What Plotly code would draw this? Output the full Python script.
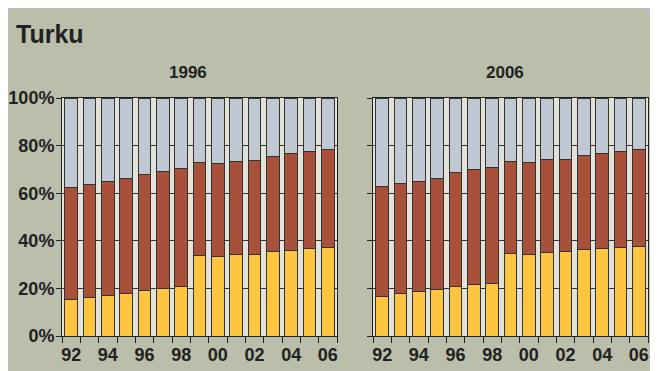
import plotly.graph_objects as go

W, H = 650, 363
OX, OY = 8, 8  # page body margin offset of the figure

years = ["92", "93", "94", "95", "96", "97", "98", "99", "00", "01", "02", "03", "04", "05", "06"]
year_labels = ["92", "", "94", "", "96", "", "98", "", "00", "", "02", "", "04", "", "06"]
y_ticks = [0, 20, 40, 60, 80, 100]
y_labels = ["0%", "20%", "40%", "60%", "80%", "100%"]

# 1996 panel (shares in %)
yellow_1996 = [15.5, 16.2, 17.2, 17.9, 19.0, 19.9, 20.6, 33.7, 33.4, 34.1, 34.4, 35.5, 36.1, 36.6, 37.0]
brown_1996 = [46.9, 47.5, 47.8, 48.1, 49.0, 49.2, 49.7, 39.3, 39.0, 39.2, 39.3, 40.0, 40.5, 40.9, 41.2]
grey_1996 = [37.6, 36.3, 35.0, 34.0, 32.0, 30.9, 29.7, 27.0, 27.6, 26.7, 26.3, 24.5, 23.4, 22.5, 21.8]

# 2006 panel (shares in %)
yellow_2006 = [16.8, 17.7, 18.5, 19.4, 20.8, 21.5, 22.2, 34.5, 34.4, 35.2, 35.4, 36.4, 36.8, 37.3, 37.6]
brown_2006 = [46.0, 46.3, 46.6, 46.9, 47.9, 48.3, 48.8, 38.9, 38.4, 38.9, 38.8, 39.5, 39.9, 40.4, 40.6]
grey_2006 = [37.2, 36.0, 34.9, 33.7, 31.3, 30.2, 29.0, 26.6, 27.2, 25.9, 25.8, 24.1, 23.3, 22.3, 21.8]

C_YELLOW = "#FFC540"
C_BROWN = "#A9503B"
C_GREY = "#C0C8D4"
C_BG = "#BBBEAA"
C_PLOT = "#E2E2D8"
C_DARK = "#222222"


def px(x):
    return (x - OX) / W


def py(y):
    return 1 - (y - OY) / H


fig = go.Figure()
line = dict(color="#333333", width=1)
for xa, ya, ys in [("x", "y", (yellow_1996, brown_1996, grey_1996)),
                   ("x2", "y2", (yellow_2006, brown_2006, grey_2006))]:
    for vals, col in zip(ys, [C_YELLOW, C_BROWN, C_GREY]):
        fig.add_trace(go.Bar(x=years, y=vals, marker=dict(color=col, line=line),
                             xaxis=xa, yaxis=ya, showlegend=False, hoverinfo="skip"))

font_b = dict(family="Liberation Sans, Arial, sans-serif", size=18, color=C_DARK, weight="bold")
font_h = dict(family="Liberation Sans, Arial, sans-serif", size=17, color=C_DARK, weight="bold")

xcommon = dict(type="category", tickvals=years, ticktext=year_labels, tickson="boundaries",
               tickangle=0, ticks="outside", ticklen=6, tickcolor=C_DARK, tickwidth=1,
               showline=True, linecolor=C_DARK, linewidth=1, mirror=True, ticklabelstandoff=2,
               showgrid=False, tickfont=font_b, automargin=False, fixedrange=True)
ycommon = dict(range=[0, 100], tickvals=y_ticks, ticktext=y_labels, ticks="outside", ticklen=5,
               tickcolor=C_DARK, tickwidth=1, showline=True, linecolor=C_DARK, linewidth=1,
               mirror=True, showgrid=True, gridcolor="#333333", gridwidth=1, ticklabelstandoff=-2,
               zeroline=False, tickfont=font_b, automargin=False, fixedrange=True)

ydom = [py(336), py(98)]
fig.update_layout(
    width=W, height=H,
    margin=dict(l=0, r=0, t=0, b=0),
    paper_bgcolor=C_BG, plot_bgcolor=C_PLOT,
    barmode="stack", bargap=0.32,
    showlegend=False,
    xaxis=dict(domain=[px(62), px(337)], anchor="y", **xcommon),
    yaxis=dict(domain=ydom, anchor="x", **ycommon),
    xaxis2=dict(domain=[px(373), px(648)], anchor="y2", **xcommon),
    yaxis2=dict(domain=ydom, anchor="x2", showticklabels=False, **ycommon),
    annotations=[
        dict(text="Turku", xref="paper", yref="paper", x=px(14), y=py(34),
             xanchor="left", yanchor="middle", showarrow=False,
             font=dict(family="Liberation Sans, Arial, sans-serif", size=25, color=C_DARK, weight="bold")),
        dict(text="1996", xref="paper", yref="paper", x=px(188), y=py(72.5),
             xanchor="center", yanchor="middle", showarrow=False, font=font_h),
        dict(text="2006", xref="paper", yref="paper", x=px(505), y=py(72.5),
             xanchor="center", yanchor="middle", showarrow=False, font=font_h),
    ],
)

fig.write_html("out.html")
